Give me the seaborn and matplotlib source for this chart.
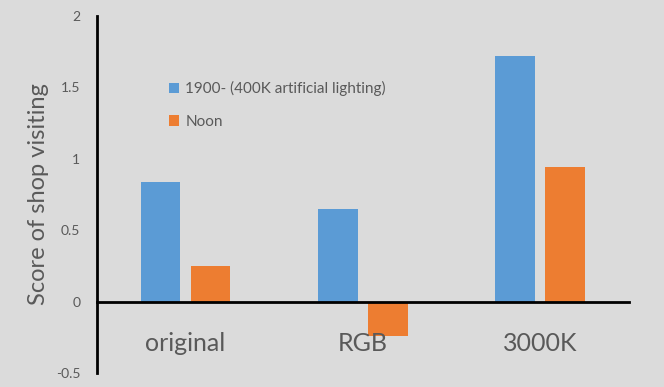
import matplotlib
matplotlib.use("Agg")
import matplotlib.pyplot as plt
import seaborn as sns
import pandas as pd
from matplotlib.patches import Patch

categories = ["original", "RGB", "3000K"]
series_names = ["1900- (400K artificial lighting)", "Noon"]
artificial_scores = [0.84, 0.65, 1.72]
noon_scores = [0.25, -0.24, 0.94]
y_ticks = [-0.5, 0, 0.5, 1, 1.5, 2]
y_tick_labels = ["-0.5", "0", "0.5", "1", "1.5", "2"]

colors = ["#5B9BD5", "#ED7D31"]
bg = "#DBDBDB"
text_grey = "#595959"

df = pd.DataFrame({
    "category": categories * 2,
    "series": [series_names[0]] * 3 + [series_names[1]] * 3,
    "score": artificial_scores + noon_scores,
})

sns.set_theme(style="white")
plt.rcParams["font.family"] = ["Lato", "DejaVu Sans"]

fig = plt.figure(figsize=(6.64, 3.87), dpi=100, facecolor=bg)
ax = fig.add_axes([0.146, 0.036, 0.801, 0.923])
ax.set_facecolor(bg)

sns.barplot(data=df, x="category", y="score", hue="series",
            order=categories, hue_order=series_names,
            palette=colors, width=0.564, gap=0.21,
            saturation=1, errorbar=None, ax=ax, legend=False,
            linewidth=0, edgecolor="none")

ax.set_xlim(-0.5, 2.5)
ax.set_ylim(-0.5, 2)
ax.set_yticks(y_ticks)
ax.set_yticklabels(y_tick_labels)
ax.set_axisbelow(False)

for side in ["top", "right"]:
    ax.spines[side].set_visible(False)
ax.spines["bottom"].set_position(("data", 0))
for side in ["left", "bottom"]:
    ax.spines[side].set_color("black")
    ax.spines[side].set_linewidth(2)
ax.spines["bottom"].set_zorder(3)

ax.tick_params(axis="both", length=0)
ax.tick_params(axis="y", labelsize=10, labelcolor=text_grey, pad=12)
ax.tick_params(axis="x", labelsize=18, labelcolor=text_grey, pad=22)

ax.set_xlabel("")
ax.set_ylabel("Score of shop visiting", fontsize=17, color=text_grey, labelpad=5)

handles = [Patch(facecolor=c, edgecolor="none") for c in colors]
ax.legend(handles, series_names, loc="upper left",
          bbox_to_anchor=(0.11, 0.855), frameon=False,
          fontsize=11, labelcolor=text_grey,
          handlelength=0.65, handleheight=0.65, handletextpad=0.4,
          labelspacing=1.2)

fig.savefig("out.png", dpi=100, facecolor=bg)
